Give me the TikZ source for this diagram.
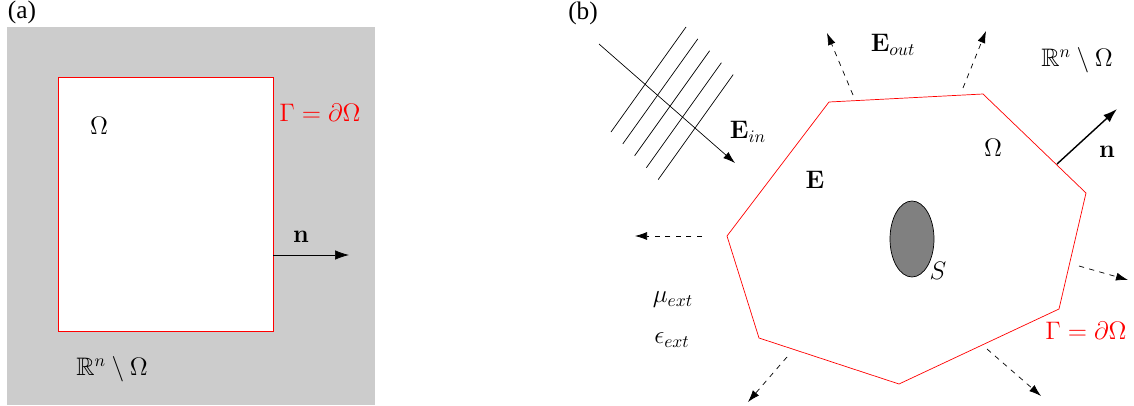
\documentclass[tikz,border=0pt]{standalone}
\usepackage{amsmath,amssymb}
\usepackage[no-math]{fontspec}
\newfontfamily\panelfont{Liberation Serif}
\usetikzlibrary{arrows.meta,shapes.geometric}

\begin{document}
\begin{tikzpicture}[x=0.02cm, y=-0.02cm, font=\Large,
		outward/.style={dashed, -{Latex[length=2.4mm,width=1.6mm]}},
		normalvec/.style={-{Latex[length=2.8mm,width=1.9mm]}},
		waveline/.style={thin},
		panel/.style={font=\panelfont\Large, inner sep=0pt}]
	\useasboundingbox (0,0) rectangle (1134,406);
	\node[panel] (pa) at (22,12) {(a)};
	\node[panel] (pb) at (583,13) {(b)};

	\fill[black!20] (7,27) rectangle (375,405);
	\draw[red, fill=white] (58,77) rectangle (273,331);
	\node (OmA) at (99,126) {$\Omega$};
	\node[red] (GamA) at (320,113) {$\Gamma = \partial\Omega$};
	\node (nA) at (301,237) {$\mathbf{n}$};
	\node (RA) at (112,369) {$\mathbb{R}^n \setminus \Omega$};
	\coordinate (nA0) at (273,255);
	\coordinate (nA1) at (349,255);
	\draw[normalvec] (nA0) -- (nA1);

	\draw[red] (829,102) -- (983,94) -- (1086,193) -- (1059,309) -- (899,384) -- (759,338) -- (727,236) -- cycle;
	\node[draw, ellipse, fill=black!50, minimum width=0.88cm, minimum height=1.52cm, inner sep=0pt] (S) at (912,239) {};
	\node (Slab) at (938,271) {$S$};

	\foreach \i in {0,...,4}
		\draw[waveline] ({611+11.8*\i},{132+11.9*\i}) -- ({686+11.8*\i},{27+11.9*\i});
	\coordinate (in0) at (599,44);
	\coordinate (in1) at (735,163);
	\draw[normalvec, -{Latex[length=2.4mm,width=1.6mm]}] (in0) -- (in1);
	\node (Ein) at (748,132) {$\mathbf{E}_{in}$};
	\node (E) at (815,180) {$\mathbf{E}$};
	\node (Eout) at (893,45) {$\mathbf{E}_{out}$};
	\node (OmB) at (993,148) {$\Omega$};
	\node (RB) at (1077,60) {$\mathbb{R}^n \setminus \Omega$};
	\node (nB) at (1107,152) {$\mathbf{n}$};
	\node (mu) at (673,300) {$\mu_{ext}$};
	\node (eps) at (672,340) {$\epsilon_{ext}$};
	\node[red] (GamB) at (1086,331) {$\Gamma = \partial\Omega$};

	\coordinate (nB0) at (1057,164);
	\coordinate (nB1) at (1117,109);
	\draw[normalvec, thick] (nB0) -- (nB1);

	\coordinate (o1a) at (853,95);   \coordinate (o1b) at (827,33);
	\coordinate (o2a) at (963,88);   \coordinate (o2b) at (986,31);
	\coordinate (o3a) at (702,236);  \coordinate (o3b) at (635,236);
	\coordinate (o4a) at (1079,266); \coordinate (o4b) at (1128,280);
	\coordinate (o5a) at (787,357);  \coordinate (o5b) at (748,402);
	\coordinate (o6a) at (987,349);  \coordinate (o6b) at (1041,396);
	\foreach \k in {1,...,6}
		\draw[outward] (o\k a) -- (o\k b);
\end{tikzpicture}
\end{document}
